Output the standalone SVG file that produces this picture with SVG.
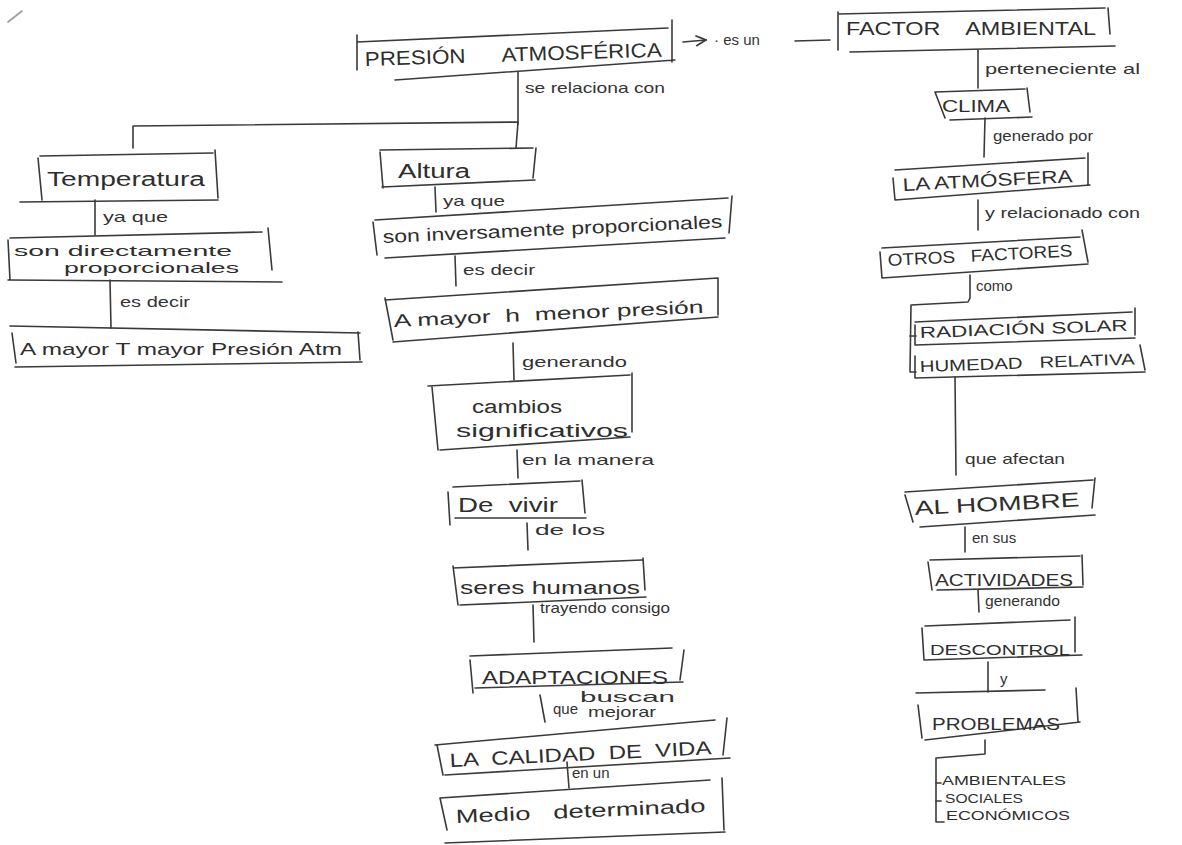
<svg xmlns="http://www.w3.org/2000/svg" width="1182" height="845" viewBox="0 0 1182 845">
  <defs>
    <style>
      .box { fill: none; stroke: #3a3a3a; stroke-width: 1.6; stroke-linejoin: round; stroke-linecap: round; }
      .ln { fill: none; stroke: #3a3a3a; stroke-width: 1.6; stroke-linecap: round; stroke-linejoin: round; }
      .t { font-family: "Liberation Sans", "DejaVu Sans", sans-serif; fill: #2e2e2e; }
      .lab { font-family: "Liberation Sans", "DejaVu Sans", sans-serif; fill: #333; font-size: 15px; }
    </style>
    <marker id="open" viewBox="0 0 10 10" refX="9" refY="5" markerWidth="8" markerHeight="8" orient="auto">
      <path d="M1,1 L9,5 L1,9" fill="none" stroke="#3a3a3a" stroke-width="1.4"/>
    </marker>
  </defs>
  <rect width="1182" height="845" fill="#ffffff"/>
  <path class="ln" d="M8,22 L22,11" stroke-opacity="0.5"/>

  <!-- connectors -->
  <g id="connectors">
    <line class="ln" x1="683" y1="42" x2="706" y2="40" marker-end="url(#open)"/>
    <line class="ln" x1="795" y1="41" x2="830" y2="40"/>
    <path class="ln" d="M518,72 L518,124"/>
    <path class="ln" d="M133,148 L133,126 L518,122 L516,148"/>
    <path class="ln" d="M95,200 L95,235"/>
    <path class="ln" d="M110,280 L111,328"/>
    <path class="ln" d="M435,187 L436,212"/>
    <path class="ln" d="M455,256 L456,286"/>
    <path class="ln" d="M513,343 L514,380"/>
    <path class="ln" d="M517,450 L518,478"/>
    <path class="ln" d="M527,523 L528,550"/>
    <path class="ln" d="M533,605 L534,642"/>
    <path class="ln" d="M540,695 L545,722"/>
    <path class="ln" d="M567,762 L569,788"/>
    <path class="ln" d="M978,50 L978,88"/>
    <path class="ln" d="M985,118 L984,157"/>
    <path class="ln" d="M978,200 L978,230"/>
    <path class="ln" d="M970,275 L970,298 L968,302 L911,305 L910,372 L916,372"/>
    <path class="ln" d="M910,336 L916,336"/>
    <path class="ln" d="M955,377 L956,475"/>
    <path class="ln" d="M965,527 L965,552"/>
    <path class="ln" d="M978,590 L979,612"/>
    <path class="ln" d="M988,662 L988,692"/>
    <path class="ln" d="M985,740 L985,754 L936,758 L936,822 L944,822"/>
    <path class="ln" d="M936,783 L941,783"/>
    <path class="ln" d="M936,801 L941,801"/>
  </g>

  <g id="n-presion">
    <path class="box" d="M357,35 L357,70 M357,42 L668,28 M672,20 L672,62 M395,80 L675,60"/>
    <text class="t" x="365" y="66" font-size="20" textLength="297" lengthAdjust="spacingAndGlyphs" transform="rotate(-1.8 365 66)" xml:space="preserve">PRESIÓN      ATMOSFÉRICA</text>
  </g>
  <text class="lab" x="714" y="45">· es un</text>
  <text class="lab" x="525" y="93" textLength="140" lengthAdjust="spacingAndGlyphs">se relaciona con</text>

  <g id="n-factor">
    <path class="box" d="M838,12 L838,50 M838,14 L1105,8 M1108,8 L1110,34 M850,52 L1115,46"/>
    <text class="t" x="846" y="35" font-size="18" textLength="250" lengthAdjust="spacingAndGlyphs" xml:space="preserve">FACTOR    AMBIENTAL</text>
  </g>
  <text class="lab" x="985" y="74" textLength="155" lengthAdjust="spacingAndGlyphs">perteneciente al</text>

  <g id="n-clima">
    <path class="box" d="M935,92 L945,118 M935,92 L1025,89 M1027,88 L1030,112 M950,120 L1032,117"/>
    <text class="t" x="942" y="112" font-size="16" textLength="68" lengthAdjust="spacingAndGlyphs">CLIMA</text>
  </g>
  <text class="lab" x="993" y="141" textLength="100" lengthAdjust="spacingAndGlyphs">generado por</text>

  <g id="n-atmosfera">
    <path class="box" d="M893,178 L895,200 M895,170 L1085,158 M1088,153 L1088,185 M895,200 L1090,185"/>
    <text class="t" x="903" y="191" font-size="18" textLength="170" lengthAdjust="spacingAndGlyphs" transform="rotate(-3 903 191)">LA ATMÓSFERA</text>
  </g>
  <text class="lab" x="985" y="218" textLength="155" lengthAdjust="spacingAndGlyphs">y relacionado con</text>

  <g id="n-otros">
    <path class="box" d="M880,252 L882,278 M882,248 L1080,237 M1082,230 L1088,262 M882,278 L1088,264"/>
    <text class="t" x="888" y="266" font-size="17" textLength="185" lengthAdjust="spacingAndGlyphs" transform="rotate(-3 888 266)" xml:space="preserve">OTROS   FACTORES</text>
  </g>
  <text class="lab" x="976" y="291" font-size="12">como</text>

  <g id="n-radiacion">
    <path class="box" d="M915,325 L915,345 M915,322 L1132,312 M1135,308 L1135,335 M915,345 L1135,338"/>
    <text class="t" x="920" y="338" font-size="16" textLength="208" lengthAdjust="spacingAndGlyphs" transform="rotate(-2 920 338)">RADIACIÓN SOLAR</text>
  </g>
  <g id="n-humedad">
    <path class="box" d="M915,356 L915,378 M1140,345 L1145,370 M915,378 L1145,372"/>
    <text class="t" x="920" y="372" font-size="16" textLength="215" lengthAdjust="spacingAndGlyphs" transform="rotate(-2 920 372)" xml:space="preserve">HUMEDAD   RELATIVA</text>
  </g>
  <text class="lab" x="965" y="464" textLength="100" lengthAdjust="spacingAndGlyphs">que afectan</text>

  <g id="n-hombre">
    <path class="box" d="M905,495 L913,522 M905,492 L1093,480 M1095,478 L1092,508 M920,527 L1095,515"/>
    <text class="t" x="915" y="515" font-size="20" textLength="165" lengthAdjust="spacingAndGlyphs" transform="rotate(-3 915 515)">AL HOMBRE</text>
  </g>
  <text class="lab" x="972" y="543" font-size="13">en sus</text>

  <g id="n-actividades">
    <path class="box" d="M928,562 L932,590 M930,560 L1080,556 M1082,555 L1083,585 M937,590 L1083,587"/>
    <text class="t" x="935" y="586" font-size="16" textLength="138" lengthAdjust="spacingAndGlyphs">ACTIVIDADES</text>
  </g>
  <text class="lab" x="985" y="606" font-size="12" textLength="75" lengthAdjust="spacingAndGlyphs">generando</text>

  <g id="n-descontrol">
    <path class="box" d="M922,628 L924,660 M925,626 L1070,620 M1075,617 L1075,652 M924,660 L1082,655"/>
    <text class="t" x="930" y="655" font-size="15" textLength="140" lengthAdjust="spacingAndGlyphs">DESCONTROL</text>
  </g>
  <text class="lab" x="1000" y="684" font-size="13">y</text>

  <g id="n-problemas">
    <path class="box" d="M918,705 L922,738 M916,693 L1045,690 M1076,688 L1078,722 M925,740 L1080,722"/>
    <text class="t" x="932" y="730" font-size="17" textLength="128" lengthAdjust="spacingAndGlyphs">PROBLEMAS</text>
  </g>
  <g id="n-tipos">
    <text class="t" x="942" y="785" font-size="13" textLength="124" lengthAdjust="spacingAndGlyphs">AMBIENTALES</text>
    <text class="t" x="945" y="803" font-size="13" textLength="78" lengthAdjust="spacingAndGlyphs">SOCIALES</text>
    <text class="t" x="946" y="820" font-size="13" textLength="124" lengthAdjust="spacingAndGlyphs">ECONÓMICOS</text>
  </g>

  <!-- left branch -->
  <g id="n-temperatura">
    <path class="box" d="M38,158 L42,200 M40,156 L213,153 M215,150 L218,198 M20,202 L218,200"/>
    <text class="t" x="47" y="186" font-size="20" textLength="158" lengthAdjust="spacingAndGlyphs">Temperatura</text>
  </g>
  <text class="lab" x="103" y="222" textLength="65" lengthAdjust="spacingAndGlyphs">ya que</text>

  <g id="n-directamente">
    <path class="box" d="M8,240 L10,280 M10,238 L262,232 M268,228 L272,270 M8,280 L282,282"/>
    <text class="t" x="14" y="256" font-size="15" textLength="218" lengthAdjust="spacingAndGlyphs">son directamente</text>
    <text class="t" x="64" y="273" font-size="15" textLength="175" lengthAdjust="spacingAndGlyphs">proporcionales</text>
  </g>
  <text class="lab" x="120" y="307" font-size="17" textLength="70" lengthAdjust="spacingAndGlyphs">es decir</text>

  <g id="n-mayorT">
    <path class="box" d="M12,333 L16,363 M10,326 L360,333 M358,332 L360,360 M15,367 L362,362"/>
    <text class="t" x="20" y="355" font-size="17" textLength="322" lengthAdjust="spacingAndGlyphs">A mayor T mayor Presión Atm</text>
  </g>

  <!-- middle branch -->
  <g id="n-altura">
    <path class="box" d="M380,152 L383,188 M380,150 L533,148 M536,148 L533,178 M382,187 L535,180"/>
    <text class="t" x="398" y="178" font-size="20" textLength="72" lengthAdjust="spacingAndGlyphs">Altura</text>
  </g>
  <text class="lab" x="443" y="206" textLength="62" lengthAdjust="spacingAndGlyphs">ya que</text>

  <g id="n-inversamente">
    <path class="box" d="M373,222 L377,255 M375,220 L728,198 M732,196 L729,233 M385,258 L725,238"/>
    <text class="t" x="383" y="243" font-size="18" textLength="340" lengthAdjust="spacingAndGlyphs" transform="rotate(-2.6 383 243)">son inversamente proporcionales</text>
  </g>
  <text class="lab" x="463" y="275" textLength="72" lengthAdjust="spacingAndGlyphs">es decir</text>

  <g id="n-mayorh">
    <path class="box" d="M385,298 L393,340 M385,300 L718,278 M718,278 L718,315 M393,342 L718,317"/>
    <text class="t" x="394" y="327" font-size="18" textLength="310" lengthAdjust="spacingAndGlyphs" transform="rotate(-2.6 394 327)" xml:space="preserve">A mayor  h  menor presión</text>
  </g>
  <text class="lab" x="522" y="367" textLength="105" lengthAdjust="spacingAndGlyphs">generando</text>

  <g id="n-cambios">
    <path class="box" d="M432,387 L438,450 M428,386 L630,375 M632,373 L632,432 M440,450 L630,437"/>
    <text class="t" x="472" y="413" font-size="18" textLength="90" lengthAdjust="spacingAndGlyphs">cambios</text>
    <text class="t" x="456" y="437" font-size="18" textLength="172" lengthAdjust="spacingAndGlyphs">significativos</text>
  </g>
  <text class="lab" x="522" y="465" textLength="132" lengthAdjust="spacingAndGlyphs">en la manera</text>

  <g id="n-devivir">
    <path class="box" d="M448,492 L450,525 M453,487 L580,481 M582,480 L585,513 M455,518 L586,518"/>
    <text class="t" x="458" y="512" font-size="20" textLength="100" lengthAdjust="spacingAndGlyphs" xml:space="preserve">De  vivir</text>
  </g>
  <text class="lab" x="535" y="535" textLength="70" lengthAdjust="spacingAndGlyphs">de los</text>

  <g id="n-seres">
    <path class="box" d="M453,566 L458,605 M453,568 L642,560 M643,558 L645,590 M460,605 L646,597"/>
    <text class="t" x="460" y="594" font-size="19" textLength="180" lengthAdjust="spacingAndGlyphs">seres humanos</text>
  </g>
  <text class="lab" x="540" y="613" textLength="130" lengthAdjust="spacingAndGlyphs">trayendo consigo</text>

  <g id="n-adaptaciones">
    <path class="box" d="M470,660 L473,693 M470,656 L672,648 M684,650 L680,680 M475,688 L683,682"/>
    <text class="t" x="482" y="684" font-size="18" textLength="186" lengthAdjust="spacingAndGlyphs">ADAPTACIONES</text>
  </g>
  <text class="lab" x="553" y="714" font-size="11">que</text>
  <text class="lab" x="580" y="702" textLength="95" lengthAdjust="spacingAndGlyphs">buscan</text>
  <text class="lab" x="588" y="717" textLength="68" lengthAdjust="spacingAndGlyphs">mejorar</text>

  <g id="n-calidad">
    <path class="box" d="M437,745 L443,775 M435,745 L715,720 M727,718 L723,755 M445,775 L730,758"/>
    <text class="t" x="450" y="767" font-size="19" textLength="262" lengthAdjust="spacingAndGlyphs" transform="rotate(-2.8 450 767)" xml:space="preserve">LA  CALIDAD  DE  VIDA</text>
  </g>
  <text class="lab" x="572" y="778" font-size="13">en un</text>

  <g id="n-medio">
    <path class="box" d="M440,798 L447,830 M440,798 L710,780 M722,778 L724,830 M445,843 L725,832"/>
    <text class="t" x="456" y="823" font-size="19" textLength="250" lengthAdjust="spacingAndGlyphs" transform="rotate(-2.5 456 823)" xml:space="preserve">Medio   determinado</text>
  </g>
</svg>
